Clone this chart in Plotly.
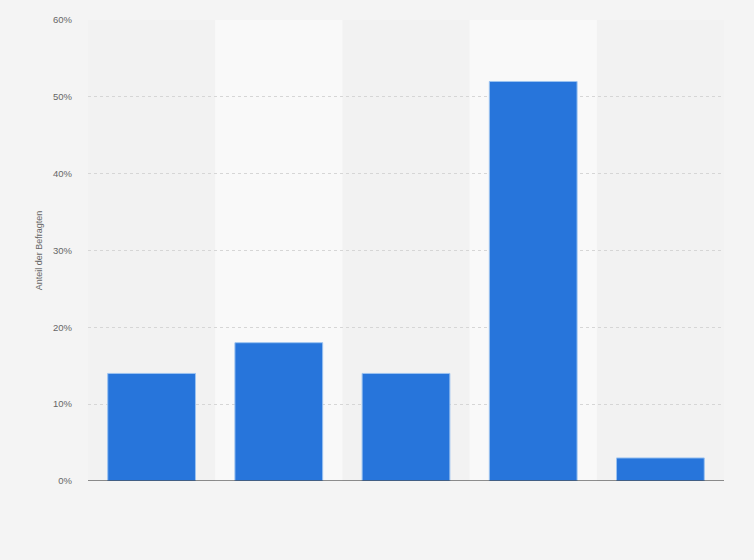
import plotly.graph_objects as go

categories = ["Kategorie 1", "Kategorie 2", "Kategorie 3", "Kategorie 4", "Kategorie 5"]
values = [14, 18, 14, 52, 3]
y_ticks = [0, 10, 20, 30, 40, 50, 60]
y_tick_labels = ["0%", "10%", "20%", "30%", "40%", "50%", "60%"]

fig = go.Figure()
fig.add_trace(go.Bar(
    x=list(range(len(categories))),
    y=values,
    width=0.69,
    marker=dict(color="#2775db", line=dict(color="#9cc3f0", width=1)),
    hovertext=categories,
))

shapes = []
for i in range(len(categories)):
    if i % 2 == 1:
        shapes.append(dict(type="rect", xref="x", yref="paper", x0=i - 0.5, x1=i + 0.5,
                           y0=0, y1=1, fillcolor="#f9f9f9", line=dict(width=0), layer="below"))

fig.update_layout(
    width=754, height=560,
    margin=dict(l=88, r=30, t=20, b=79),
    paper_bgcolor="#f4f4f4",
    plot_bgcolor="#f2f2f2",
    shapes=shapes,
    showlegend=False,
    font=dict(family="Arial, Liberation Sans, sans-serif", color="#666666", size=10),
    xaxis=dict(range=[-0.5, len(categories) - 0.5], showticklabels=False, showgrid=False,
               zeroline=False, showline=False, ticks=""),
    yaxis=dict(range=[0, 60], tickvals=y_ticks, ticktext=y_tick_labels,
               showgrid=True, gridcolor="#d6d6d6", griddash="dot", gridwidth=1,
               zeroline=False, showline=False, ticks="", ticklabelstandoff=15,
               title=dict(text="Anteil der Befragten", font=dict(size=9, color="#666666"), standoff=8),
               tickfont=dict(size=9.5, color="#666666")),
)
fig.add_shape(type="line", xref="paper", yref="y", x0=0, x1=1, y0=0, y1=0,
              line=dict(color="#222222", width=1.2))
fig.write_html("out.html", config={"displayModeBar": False},
               post_script="document.body.style.margin='0';document.body.style.background='#f4f4f4';")
